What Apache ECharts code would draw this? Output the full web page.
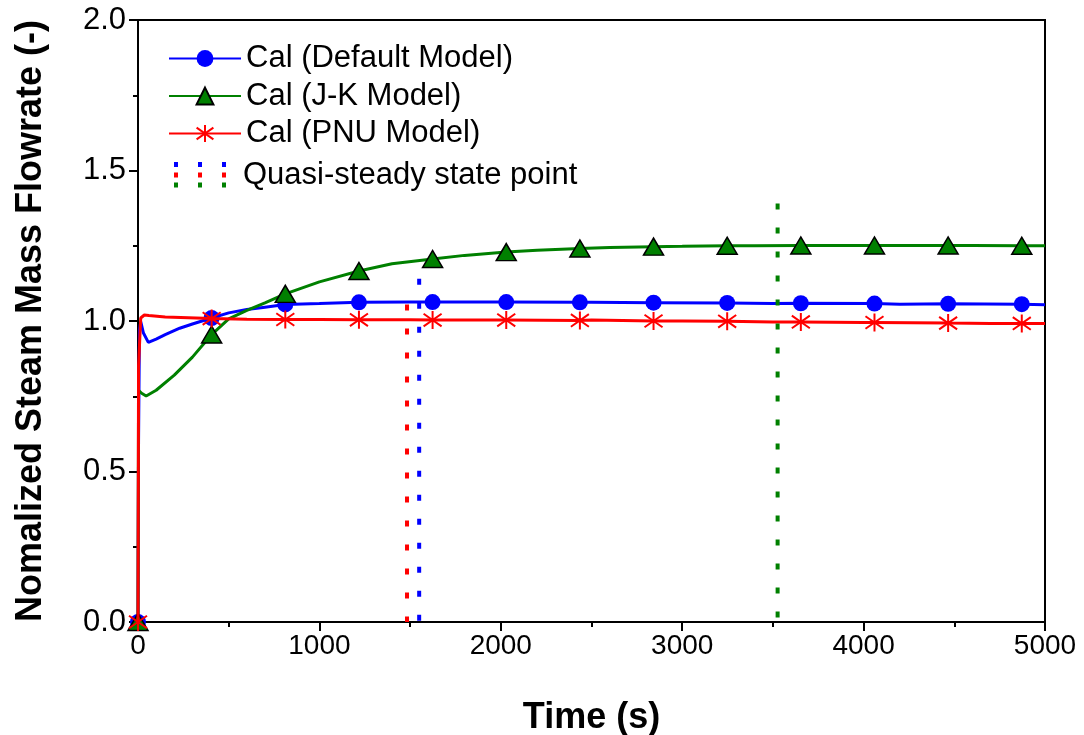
<!DOCTYPE html>
<html>
<head>
<meta charset="utf-8">
<script src="https://cdn.jsdelivr.net/npm/echarts@6/dist/echarts.min.js"></script>
<style>
html,body{margin:0;padding:0;background:#fff;}
#chart{width:1084px;height:735px;}
</style>
</head>
<body>
<div id="chart"></div>
<script>
// ---- Data ----
const seriesNames = ['Cal (Default Model)', 'Cal (J-K Model)', 'Cal (PNU Model)'];
const seriesColors = ['#0000FF', '#008000', '#FF0000'];

// marker times (s)
const markerTimes = [0, 406, 812, 1218, 1624, 2030, 2436, 2842, 3248, 3654, 4060, 4466, 4872];
const defaultMarkers = [0, 1.010, 1.055, 1.062, 1.063, 1.063, 1.062, 1.061, 1.060, 1.059, 1.058, 1.057, 1.056];
const jkMarkers      = [0, 0.955, 1.090, 1.166, 1.206, 1.229, 1.241, 1.247, 1.250, 1.251, 1.251, 1.251, 1.250];
const pnuMarkers     = [0, 1.008, 1.005, 1.004, 1.003, 1.003, 1.002, 1.000, 0.999, 0.997, 0.995, 0.993, 0.992];

// curve points between markers (time, value)
const defaultCurveT = [3, 8, 15, 30, 57, 100, 150, 230, 300, 500, 600, 700, 1000, 1500, 2500, 3500, 4200, 5000];
const defaultCurveV = [0.60, 0.97, 0.998, 0.96, 0.929, 0.940, 0.955, 0.976, 0.990, 1.027, 1.038, 1.046, 1.058, 1.063, 1.062, 1.058, 1.056, 1.054];
const jkCurveT = [3, 20, 45, 100, 200, 300, 500, 600, 700, 1000, 1400, 1800, 2200, 2600, 3000, 3400, 3800, 4200, 4600, 5000];
const jkCurveV = [0.77, 0.760, 0.751, 0.770, 0.820, 0.880, 1.007, 1.035, 1.060, 1.130, 1.190, 1.218, 1.235, 1.244, 1.248, 1.250, 1.251, 1.251, 1.251, 1.250];
const pnuCurveT = [3, 15, 35, 60, 150, 600, 1000, 1500, 2500, 3000, 3500, 4000, 4700, 5000];
const pnuCurveV = [0.85, 1.010, 1.020, 1.018, 1.013, 1.006, 1.005, 1.004, 1.003, 1.000, 0.997, 0.995, 0.992, 0.992];

// quasi-steady state points (vertical dotted lines)
const qssNames = ['Default', 'PNU', 'J-K'];
const qssTimes = [1550, 1483, 3526];
const qssTops  = [1.14, 1.055, 1.39];
const qssColors = ['#0000FF', '#FF0000', '#008000'];

// axes
const xTicks = [0, 1000, 2000, 3000, 4000, 5000];
const yTicks = [0.0, 0.5, 1.0, 1.5, 2.0];

// ---- Build ----
function merge(mT, mV, cT, cV) {
  const pts = [];
  mT.forEach((t, i) => pts.push({ value: [t, mV[i]], marker: true }));
  cT.forEach((t, i) => pts.push({ value: [t, cV[i]], marker: false }));
  pts.sort((a, b) => a.value[0] - b.value[0]);
  return pts.map(p => p.marker ? { value: p.value } : { value: p.value, symbol: 'none' });
}

const FONT = 'Liberation Sans, Arial, sans-serif';
const starPath = 'path://M10 0 L10 20 M1.5 3 L18.5 17 M1.5 17 L18.5 3';

const series = [
  {
    name: seriesNames[0], type: 'line', data: merge(markerTimes, defaultMarkers, defaultCurveT, defaultCurveV),
    symbol: 'circle', symbolSize: 16, showSymbol: true, showAllSymbol: true,
    lineStyle: { color: seriesColors[0], width: 3 },
    itemStyle: { color: seriesColors[0] }, z: 3, animation: false
  },
  {
    name: seriesNames[1], type: 'line', data: merge(markerTimes, jkMarkers, jkCurveT, jkCurveV),
    symbol: 'triangle', symbolSize: [20, 17], showSymbol: true, showAllSymbol: true,
    lineStyle: { color: seriesColors[1], width: 3 },
    itemStyle: { color: seriesColors[1], borderColor: '#000', borderWidth: 1.5 }, z: 4, animation: false
  },
  {
    name: seriesNames[2], type: 'line', data: merge(markerTimes, pnuMarkers, pnuCurveT, pnuCurveV),
    symbol: starPath, symbolSize: 18, showSymbol: true, showAllSymbol: true,
    lineStyle: { color: seriesColors[2], width: 3 },
    itemStyle: { color: seriesColors[2], borderColor: seriesColors[2], borderWidth: 2 }, z: 5, animation: false
  }
];

qssTimes.forEach((t, i) => {
  series.push({
    name: 'qss-' + qssNames[i], type: 'line', data: [[t, qssTops[i]], [t, 0]],
    symbol: 'none', silent: true, z: 6, animation: false,
    lineStyle: { color: qssColors[i], width: 4, type: [6, 18] }
  });
});

// custom legend entry for quasi-steady state point
const qssLegendGraphics = [];
const colX = [176, 200, 224];
const rowColors = ['#0000FF', '#FF0000', '#008000'];
const rowY = [162, 172.5, 182.5];
colX.forEach(x => {
  rowColors.forEach((c, j) => {
    qssLegendGraphics.push({ type: 'rect', shape: { x: x - 2, y: rowY[j], width: 4, height: 5 }, style: { fill: c }, silent: true });
  });
});
qssLegendGraphics.push({
  type: 'text', left: 243, top: 160,
  style: { text: 'Quasi-steady state point', font: '31px ' + FONT, fill: '#000' }
});

const chart = echarts.init(document.getElementById('chart'), null, { renderer: 'canvas' });
chart.setOption({
  backgroundColor: '#fff',
  animation: false,
  grid: { left: 138, right: 39, top: 20, bottom: 113, show: true, borderColor: '#000', borderWidth: 2, backgroundColor: 'transparent', containLabel: false, outerBoundsMode: 'none' },
  legend: {
    data: seriesNames, orient: 'vertical', left: 163, top: 38,
    itemWidth: 72, itemHeight: 21, itemGap: 6.5, itemTextGap: 9,
    textStyle: { fontFamily: FONT, fontSize: 31, color: '#000' },
    lineStyle: { width: 2 }
  },
  xAxis: {
    type: 'value', min: 0, max: 5000, interval: 1000,
    name: 'Time (s)', nameLocation: 'middle', nameGap: 78,
    nameTextStyle: { fontFamily: FONT, fontSize: 36, fontWeight: 'bold', color: '#000' },
    axisLine: { lineStyle: { color: '#000', width: 2 } },
    axisTick: { show: true, inside: false, length: 9, lineStyle: { color: '#000', width: 2 } },
    minorTick: { show: true, splitNumber: 2, length: 5, lineStyle: { color: '#000', width: 2 } },
    splitLine: { show: false },
    axisLabel: { fontFamily: FONT, fontSize: 28, color: '#000', margin: 10, formatter: v => String(v) }
  },
  yAxis: {
    type: 'value', min: 0, max: 2, interval: 0.5,
    name: 'Nomalized Steam Mass Flowrate (-)', nameLocation: 'middle', nameGap: 89,
    nameTextStyle: { fontFamily: FONT, fontSize: 36, fontWeight: 'bold', color: '#000' },
    axisLine: { lineStyle: { color: '#000', width: 2 } },
    axisTick: { show: true, inside: false, length: 9, lineStyle: { color: '#000', width: 2 } },
    minorTick: { show: true, splitNumber: 2, length: 5, lineStyle: { color: '#000', width: 2 } },
    splitLine: { show: false },
    axisLabel: { fontFamily: FONT, fontSize: 31, color: '#000', margin: 12, formatter: v => v.toFixed(1) }
  },
  graphic: qssLegendGraphics,
  series: series
});
</script>
</body>
</html>
